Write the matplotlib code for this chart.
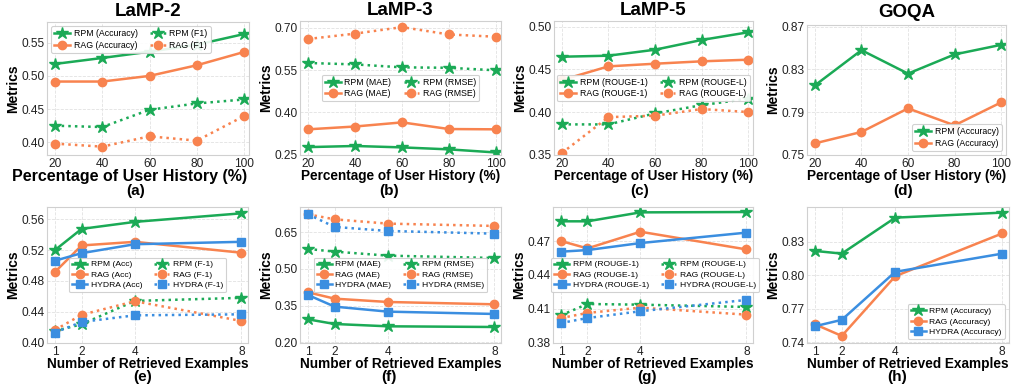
import matplotlib
matplotlib.use("Agg")
import matplotlib.pyplot as plt

plt.rcParams['font.family'] = ['Liberation Sans', 'DejaVu Sans']

GREEN = '#1BAA56'
ORANGE = '#F8834F'
BLUE = '#3B8EE0'

# ---- top row: percentage of user history ----
history_pct = [20, 40, 60, 80, 100]

lamp2_rpm_acc = [0.518, 0.527, 0.5365, 0.547, 0.563]
lamp2_rag_acc = [0.4915, 0.4915, 0.500, 0.516, 0.536]
lamp2_rpm_f1 = [0.425, 0.423, 0.449, 0.4585, 0.4645]
lamp2_rag_f1 = [0.398, 0.3935, 0.409, 0.4025, 0.4395]

lamp3_rpm_mae = [0.277, 0.281, 0.276, 0.269, 0.258]
lamp3_rag_mae = [0.340, 0.350, 0.3646, 0.341, 0.340]
lamp3_rpm_rmse = [0.575, 0.570, 0.5595, 0.558, 0.549]
lamp3_rag_rmse = [0.660, 0.679, 0.702, 0.676, 0.668]

lamp5_rpm_r1 = [0.4648, 0.466, 0.473, 0.4844, 0.4934]
lamp5_rag_r1 = [0.4375, 0.4535, 0.4566, 0.4594, 0.4613]
lamp5_rpm_rl = [0.3855, 0.3855, 0.3984, 0.408, 0.4156]
lamp5_rag_rl = [0.352, 0.394, 0.3957, 0.4035, 0.400]

goqa_rpm_acc = [0.815, 0.848, 0.826, 0.844, 0.853]
goqa_rag_acc = [0.7606, 0.7713, 0.7934, 0.7775, 0.799]

# ---- bottom row: number of retrieved examples ----
n_retrieved = [1, 2, 4, 8]

e_rpm_acc = [0.520, 0.5475, 0.5566, 0.5677]
e_rag_acc = [0.4916, 0.526, 0.5307, 0.5166]
e_hydra_acc = [0.5062, 0.516, 0.5276, 0.5307]
e_rpm_f1 = [0.415, 0.4237, 0.454, 0.458]
e_rag_f1 = [0.4163, 0.436, 0.4536, 0.428]
e_hydra_f1 = [0.413, 0.4267, 0.4353, 0.4366]

f_rpm_mae = [0.294, 0.275, 0.2655, 0.2627]
f_rag_mae = [0.4045, 0.3786, 0.365, 0.3555]
f_hydra_mae = [0.3936, 0.346, 0.3255, 0.316]
f_rpm_rmse = [0.5818, 0.571, 0.5545, 0.545]
f_rag_rmse = [0.7236, 0.703, 0.6855, 0.676]
f_hydra_rmse = [0.7236, 0.672, 0.6555, 0.6445]

g_rpm_r1 = [0.4874, 0.4874, 0.4953, 0.4956]
g_rag_r1 = [0.470, 0.4635, 0.4782, 0.4626]
g_hydra_r1 = [0.4606, 0.462, 0.4682, 0.4774]
g_rpm_rl = [0.4044, 0.4144, 0.4138, 0.4118]
g_rag_rl = [0.402, 0.4065, 0.4112, 0.405]
g_hydra_rl = [0.3976, 0.402, 0.408, 0.418]

h_rpm_acc = [0.8217, 0.8193, 0.8515, 0.856]
h_rag_acc = [0.756, 0.7456, 0.7991, 0.8374]
h_hydra_acc = [0.7543, 0.760, 0.803, 0.8193]

W, H = 1011, 385
fig = plt.figure(figsize=(W / 100, H / 100), dpi=100)


def make_ax(left, right, top, bottom):
    ax = fig.add_axes([left / W, 1 - bottom / H, (right - left) / W, (bottom - top) / H])
    ax.set_facecolor('white')
    ax.grid(True, color='#e2e2e2', linestyle='--', linewidth=0.6)
    ax.set_axisbelow(True)
    for s in ax.spines.values():
        s.set_color('#d0d0d0')
        s.set_linewidth(0.8)
    ax.tick_params(length=0, labelsize=8.6, pad=2, colors='#222222')
    ax.set_ylabel('Metrics', fontsize=10, fontweight='bold', labelpad=1)
    return ax


def draw(ax, x, y, color, marker, dotted, label):
    ms = {'*': 9.2, 'o': 6, 's': 5.5}[marker]
    ax.plot(x, y, color=color, marker=marker, markersize=ms,
            linestyle=':' if dotted else '-', linewidth=1.8, label=label)


def finish(ax, xlabel, tag, tag_xy, yticks, ylim, xlim, xticks, legend_kw, leg_fs=6.3):
    ax.set_xlim(*xlim)
    ax.set_xticks(xticks)
    ax.set_ylim(*ylim)
    ax.set_yticks(yticks)
    ax.set_yticklabels(['%.2f' % v for v in yticks])
    ax.set_xlabel(xlabel, fontsize=9.8, fontweight='bold', labelpad=-0.5)
    fig.text(tag_xy[0] / W, 1 - tag_xy[1] / H, tag, ha='center', va='center',
             fontsize=11, fontweight='bold')
    leg = ax.legend(fontsize=leg_fs, frameon=True, framealpha=0.9, edgecolor='#cccccc',
                    handlelength=1.8, borderpad=0.35, labelspacing=0.3,
                    handletextpad=0.4, columnspacing=1.4, **legend_kw)
    leg.get_frame().set_linewidth(0.8)


top_xl = (16.6, 102.1)
bot_xl = (0.7, 8.25)
top_lab = 'Percentage of User History (%)'
bot_lab = 'Number of Retrieved Examples'

# (a)
ax = make_ax(47, 249, 21.7, 155)
draw(ax, history_pct, lamp2_rpm_acc, GREEN, '*', False, 'RPM (Accuracy)')
draw(ax, history_pct, lamp2_rag_acc, ORANGE, 'o', False, 'RAG (Accuracy)')
draw(ax, history_pct, lamp2_rpm_f1, GREEN, '*', True, 'RPM (F1)')
draw(ax, history_pct, lamp2_rag_f1, ORANGE, 'o', True, 'RAG (F1)')
ax.set_title('LaMP-2', fontsize=13.5, fontweight='bold', pad=4)
finish(ax, top_lab, '(a)', (136, 191.5), [0.40, 0.45, 0.50, 0.55], (0.3809, 0.5816),
       top_xl, history_pct, dict(loc='upper left', ncol=2))
ax.xaxis.label.set_fontsize(11.5)
ax.xaxis.set_label_coords(0.41, -0.108)

# (b)
ax = make_ax(300, 501, 20.7, 155.3)
draw(ax, history_pct, lamp3_rpm_mae, GREEN, '*', False, 'RPM (MAE)')
draw(ax, history_pct, lamp3_rag_mae, ORANGE, 'o', False, 'RAG (MAE)')
draw(ax, history_pct, lamp3_rpm_rmse, GREEN, '*', True, 'RPM (RMSE)')
draw(ax, history_pct, lamp3_rag_rmse, ORANGE, 'o', True, 'RAG (RMSE)')
ax.set_title('LaMP-3', fontsize=13.5, fontweight='bold', pad=4)
finish(ax, top_lab, '(b)', (389, 191), [0.25, 0.40, 0.55, 0.70], (0.248, 0.7248),
       top_xl, history_pct, dict(loc='center', ncol=2))

# (c)
ax = make_ax(554, 753, 20.7, 155.3)
draw(ax, history_pct, lamp5_rpm_r1, GREEN, '*', False, 'RPM (ROUGE-1)')
draw(ax, history_pct, lamp5_rag_r1, ORANGE, 'o', False, 'RAG (ROUGE-1)')
draw(ax, history_pct, lamp5_rpm_rl, GREEN, '*', True, 'RPM (ROUGE-L)')
draw(ax, history_pct, lamp5_rag_rl, ORANGE, 'o', True, 'RAG (ROUGE-L)')
ax.set_title('LaMP-5', fontsize=13.5, fontweight='bold', pad=4)
finish(ax, top_lab, '(c)', (640, 191), [0.35, 0.40, 0.45, 0.50], (0.3493, 0.507),
       top_xl, history_pct, dict(loc='center', ncol=2))

# (d)
ax = make_ax(807, 1006, 25, 155.3)
draw(ax, history_pct, goqa_rpm_acc, GREEN, '*', False, 'RPM (Accuracy)')
draw(ax, history_pct, goqa_rag_acc, ORANGE, 'o', False, 'RAG (Accuracy)')
ax.set_title('GOQA', fontsize=13.5, fontweight='bold', pad=6)
finish(ax, top_lab, '(d)', (903, 191), [0.75, 0.79, 0.83, 0.87], (0.7494, 0.8716),
       top_xl, history_pct, dict(loc='lower right', ncol=1))

# (e)
ax = make_ax(47, 248, 206.7, 343.3)
draw(ax, n_retrieved, e_rpm_acc, GREEN, '*', False, 'RPM (Acc)')
draw(ax, n_retrieved, e_rag_acc, ORANGE, 'o', False, 'RAG (Acc)')
draw(ax, n_retrieved, e_hydra_acc, BLUE, 's', False, 'HYDRA (Acc)')
draw(ax, n_retrieved, e_rpm_f1, GREEN, '*', True, 'RPM (F-1)')
draw(ax, n_retrieved, e_rag_f1, ORANGE, 'o', True, 'RAG (F-1)')
draw(ax, n_retrieved, e_hydra_f1, BLUE, 's', True, 'HYDRA (F-1)')
finish(ax, bot_lab, '(e)', (143, 377), [0.40, 0.44, 0.48, 0.52, 0.56], (0.399, 0.5763),
       bot_xl, n_retrieved, dict(loc='center', ncol=2), leg_fs=6.1)

# (f)
ax = make_ax(300, 501, 206.7, 343.3)
draw(ax, n_retrieved, f_rpm_mae, GREEN, '*', False, 'RPM (MAE)')
draw(ax, n_retrieved, f_rag_mae, ORANGE, 'o', False, 'RAG (MAE)')
draw(ax, n_retrieved, f_hydra_mae, BLUE, 's', False, 'HYDRA (MAE)')
draw(ax, n_retrieved, f_rpm_rmse, GREEN, '*', True, 'RPM (RMSE)')
draw(ax, n_retrieved, f_rag_rmse, ORANGE, 'o', True, 'RAG (RMSE)')
draw(ax, n_retrieved, f_hydra_rmse, BLUE, 's', True, 'HYDRA (RMSE)')
finish(ax, bot_lab, '(f)', (389, 377), [0.20, 0.35, 0.50, 0.65], (0.196, 0.7547),
       bot_xl, n_retrieved, dict(loc='center', ncol=2), leg_fs=6.1)

# (g)
ax = make_ax(553, 753, 206.7, 343.3)
draw(ax, n_retrieved, g_rpm_r1, GREEN, '*', False, 'RPM (ROUGE-1)')
draw(ax, n_retrieved, g_rag_r1, ORANGE, 'o', False, 'RAG (ROUGE-1)')
draw(ax, n_retrieved, g_hydra_r1, BLUE, 's', False, 'HYDRA (ROUGE-1)')
draw(ax, n_retrieved, g_rpm_rl, GREEN, '*', True, 'RPM (ROUGE-L)')
draw(ax, n_retrieved, g_rag_rl, ORANGE, 'o', True, 'RAG (ROUGE-L)')
draw(ax, n_retrieved, g_hydra_rl, BLUE, 's', True, 'HYDRA (ROUGE-L)')
finish(ax, bot_lab, '(g)', (647, 377), [0.38, 0.41, 0.44, 0.47], (0.3797, 0.5003),
       bot_xl, n_retrieved, dict(loc='center', ncol=2, bbox_to_anchor=(0.51, 0.5)),
       leg_fs=6.1)

# (h)
ax = make_ax(807, 1009, 206.7, 343.3)
draw(ax, n_retrieved, h_rpm_acc, GREEN, '*', False, 'RPM (Accuracy)')
draw(ax, n_retrieved, h_rag_acc, ORANGE, 'o', False, 'RAG (Accuracy)')
draw(ax, n_retrieved, h_hydra_acc, BLUE, 's', False, 'HYDRA (Accuracy)')
finish(ax, bot_lab, '(h)', (897, 377), [0.74, 0.77, 0.80, 0.83], (0.739, 0.8613),
       bot_xl, n_retrieved, dict(loc='lower right', ncol=1), leg_fs=6.1)

fig.savefig('out.png', dpi=100)
